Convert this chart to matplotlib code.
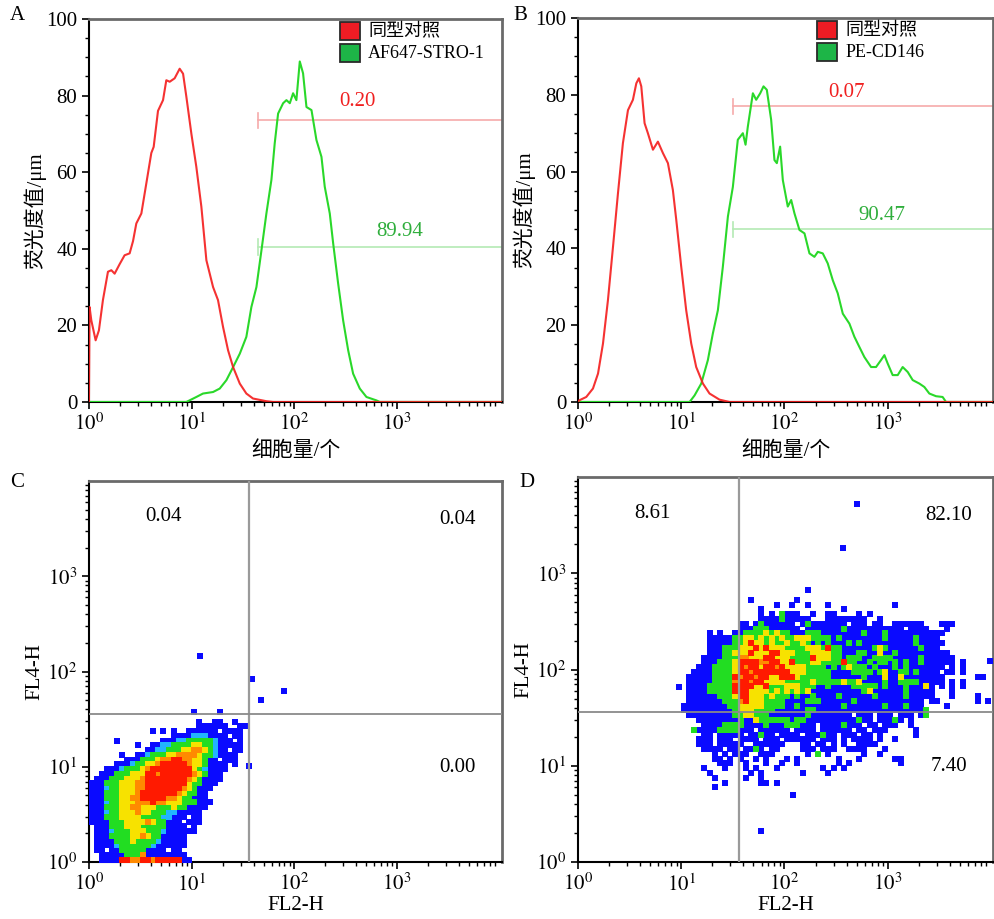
import matplotlib.pyplot as plt
from matplotlib.patches import Rectangle
from matplotlib.ticker import FixedLocator, FixedFormatter, LogLocator, NullFormatter, MultipleLocator
import numpy as np

plt.rcParams['font.family'] = ['Liberation Serif', 'Noto Sans CJK SC']
plt.rcParams['mathtext.fontset'] = 'stix'

# =========================
# DADOS — histogramas (posição em log10 do canal, altura)
# =========================
a_red_logx = [0.0, 0.006, 0.023, 0.065, 0.097, 0.136, 0.185, 0.218, 0.25, 0.299,
              0.347, 0.396, 0.429, 0.461, 0.51, 0.558, 0.607, 0.63, 0.672, 0.721,
              0.753, 0.786, 0.834, 0.883, 0.916, 0.948, 0.997, 1.045, 1.094, 1.143,
              1.208, 1.256, 1.305, 1.354, 1.403, 1.468, 1.532, 1.597, 1.727, 1.792, 4.02]
a_red_val = [0, 24.8, 21.3, 16.1, 18.7, 26.6, 34.0, 34.4, 33.5, 36.0,
             38.3, 38.8, 42.0, 46.6, 49.2, 57.0, 65.0, 66.6, 76.0, 78.8,
             84.0, 83.6, 84.5, 87.0, 85.7, 79.7, 70.0, 61.4, 51.0, 37.0,
             30.0, 26.6, 19.6, 13.5, 9.1, 4.8, 2.2, 0.9, 0.2, 0, 0]

a_green_logx = [0.0, 0.948, 1.045, 1.11, 1.208, 1.273, 1.338, 1.403, 1.468, 1.532,
                1.581, 1.63, 1.679, 1.727, 1.776, 1.808, 1.841, 1.89, 1.922, 1.955,
                1.987, 2.019, 2.052, 2.084, 2.117, 2.166, 2.214, 2.263, 2.295, 2.344,
                2.377, 2.425, 2.474, 2.523, 2.571, 2.636, 2.701, 2.799, 2.83, 4.02]
a_green_val = [0, 0, 1.3, 2.2, 2.6, 3.5, 5.7, 9.1, 12.6, 17.0,
               24.8, 30.0, 39.6, 49.2, 58.0, 67.5, 75.3, 78.0, 78.8, 78.0,
               80.6, 78.8, 88.9, 85.8, 77.0, 76.2, 68.4, 64.0, 56.2, 49.2,
               41.4, 31.0, 21.3, 13.5, 7.4, 3.5, 1.3, 0.4, 0, 0]

b_red_logx = [0.0, 0.01, 0.08, 0.145, 0.194, 0.242, 0.29, 0.339, 0.387, 0.435,
              0.484, 0.532, 0.565, 0.59, 0.613, 0.645, 0.677, 0.726, 0.774, 0.823,
              0.871, 0.919, 0.952, 1.0, 1.048, 1.097, 1.145, 1.21, 1.274, 1.371,
              1.468, 4.01]
b_red_val = [0, 0.4, 1.3, 3.5, 7.4, 15.2, 26.5, 40.4, 54.3, 67.4,
             76.0, 78.7, 83.0, 84.3, 82.2, 72.6, 70.0, 65.7, 67.8, 64.8,
             62.2, 55.2, 47.4, 35.2, 23.9, 15.2, 9.1, 4.8, 2.2, 0.6,
             0, 0]

b_green_logx = [0.0, 1.081, 1.129, 1.194, 1.258, 1.306, 1.355, 1.403, 1.452, 1.5,
                1.548, 1.597, 1.623, 1.645, 1.694, 1.726, 1.765, 1.797, 1.829, 1.871,
                1.903, 1.926, 1.958, 1.984, 2.032, 2.065, 2.097, 2.145, 2.194, 2.242,
                2.29, 2.323, 2.371, 2.419, 2.468, 2.516, 2.565, 2.629, 2.677, 2.726,
                2.774, 2.839, 2.887, 2.935, 2.968, 3.0, 3.048, 3.097, 3.145, 3.194,
                3.242, 3.306, 3.355, 3.403, 3.468, 3.532, 3.565, 4.01]
b_green_val = [0, 0, 1.7, 4.8, 10.9, 17.8, 23.9, 35.2, 48.3, 56.0,
               68.3, 70.0, 67.0, 71.7, 80.4, 78.7, 80.4, 82.2, 81.3, 73.5,
               63.0, 62.2, 66.5, 57.8, 50.9, 52.6, 49.1, 44.8, 43.9, 38.7,
               37.8, 39.1, 38.7, 36.1, 31.7, 28.3, 23.0, 20.4, 17.0, 14.3,
               11.7, 9.1, 9.1, 10.9, 12.2, 10.0, 7.0, 7.0, 9.1, 7.8,
               5.7, 4.8, 3.9, 2.2, 1.5, 1.3, 0, 0]

# marcadores (gates) dos histogramas
a_gate_x0, a_gate_red_y, a_gate_green_y = 44, 73.5, 40.5
b_gate_x0, b_gate_red_y, b_gate_green_y = 32, 77, 45
a_pcts = ['0.20', '89.94']
b_pcts = ['0.07', '90.47']
a_pct_pos = [(410, 78.5), (1050, 44.5)]
b_pct_pos = [(400, 80.5), (870, 48.5)]
leg_a = ['同型对照', 'AF647-STRO-1']
leg_b = ['同型对照', 'PE-CD146']

# =========================
# DADOS — dot plots (mapa de densidade, células de 0.05 década)
# b=azul c=ciano g=verde y=amarelo o=laranja r=vermelho
# =========================
c_map = [  # de cima (log y 1.55-1.60) para baixo (0-0.05), log x a partir de 0
    "....................b....b",
    "",
    ".....................b..bb..b",
    ".....................bbbbbb..bb",
    "............b.b.b..bbbbbb.bbbb",
    "................bbbbcccbbbb.bb",
    ".....b........bbbccgggggcbbb.b",
    ".........b..bbccggggyyggcbbbbb",
    "...........bbccgggyyooygcbb.bb",
    "......b..bbcgggyyooooyggcbbbb",
    ".......bbbgggyoorrooyygbb.bbb",
    ".....bbbcggyyorrrrroyygbbbb.b",
    "...bbbcgggyorrrrrrrrygcbbbb",
    "..bbbgggyyyrrorrrrrroygbbb",
    ".bbbgggyyyorrrrrrrroygbbbb",
    "bbbgggyyyoorrrrrrrryggbbb",
    "bbbcggyyyoorrrrrrroygbbb",
    "bbbgggyyyorrrrrrroyggbb.",
    "bbbgggyyoorrrrrooyggbbb",
    "bbbcggyyyooorooyyygggbbb",
    "bbbgggyyooyyygggyggbbbb",
    "bbbcggyyyoyygggccbbbbb",
    "bbbgggyyyyggggccbbb.bb",
    "bbbbgggyyyyoyggbbb.bbb",
    ".bbbgggyyygggggbbbb.b",
    ".bbbcgggyyygggcbbbbbb",
    ".bbbggggyyoyggbbbbb.",
    ".bbbbgggyggggcbbbbb",
    ".bbbbcggggggcbbbbbb",
    ".bb.bbgggggbbbb.bb",
    "..bbbbbgggobbbbbbbb",
    "..bbbbrroorrorrrrrbb",
]
c_map_x0, c_map_y0 = 0.0, 0.0
c_out_x = [12, 39, 47, 80, 36]
c_out_y = [144, 83, 50, 63, 10.2]

d_map = [  # de cima (log y 2.85-2.90) para baixo (0.70-0.75), log x a partir de 0.95
    "",
    "..........|..........|.....b",
    "",
    "..........|....b.....|...b",
    "..........|.........b|..b..b...b|..........|..b",
    "..........|......b...|..........|..b",
    "..........|......b.b.|gbbb..b..b|b....b.b",
    "..........|......bbbb|gbbbbb...b|bbbbbbb..b",
    "..........|..bb.bgbbb|bbb.bgbbbb|bbb.bbb.bb|..bbbbbb..|.bbb",
    "..........|..bbbgggbb|bbbb.bbbbb|bbgbbbbbbb|bbbb.bbbb.|..b",
    "......b.b.|.bbggggygy|ggbbbgggbb|bbbbbbgbbb|gbbbbbbbbb|bb",
    "......bbbb|bggyygygyg|yggyyygggg|bgbbbbbbbb|gbbbbbgbbb|b",
    "......bbbb|bggyryygyg|gyggygbgbg|bbbgbgbbbb|bbbbbbgbbb|bb",
    "......bbbg|ggyyyryryy|yggggyyygr|ggbbbbbbgy|gbbbbbbgbb|b",
    "......bbbg|gyyyryyyrr|yyygggyyyy|ggbbbggbby|bbgbbbbbbb|bbb",
    ".....bbbbg|ggooyyyrry|yyggggryyy|ggbgggbbgg|ggbbbbbgbb|bbbb",
    ".....bbbgg|gyrrrroorr|yyrgggyygg|ggrggbbgbg|gbgbgbbgbb|bbbb.b",
    "....bbbggg|gyrorryrro|ryyyyggggb|gbgygggbgb|bbgbgbbbbb|bb.b.b",
    "...bbbbggg|gyrrorrrrr|rryyyggggg|bbbbggggbg|ybbggbgbbb|b.bb.b",
    "..bbbbbggg|grorrorryy|rrrygggggg|bbbbbbgbbb|ybbybbbbbb|bb......bb",
    "..bbbbbggg|gorrorryyy|ygggggyggg|ggyggybbbb|gbbggggbbb|bb.b.b",
    "..bbbbgggg|grrrryyrgg|gyyygggbbg|bbbbgggggb|gbbbgbbbyb|.b.b.b",
    "..bbbbgggg|grrryyyygy|gygygybbbb|bbbbbbgybb|bbbbgbbbbb|...b",
    "..bbbbbbgg|gyrryyygyg|ggbgbbgbbb|bgbbbbbbgb|bbbbgbbbbb|...b....b",
    "..bbbbbbbg|ggoryyyggg|gbbbbgggbb|bbbbgbbbbb|bbbbbbbb.b|b.......b.b",
    ".bbbbbbbbb|ggyyyyyggg|gbbgbbbbbb|bbgbbbbbbb|gbbbgbbb..|..b",
    ".bbbbbbbbb|bgyyyggggb|bbbbbggbbb|bbbbbbbbbb|bbbbbbbbg",
    "..bbbbbbbb|bggyygggbb|bbbbbgbbbb|bbbb.bbb.b|bb.bbb.bg",
    "....bbbbbb|bbgbbygggg|ggbggbbbbb|bbbbbgbb.b|bbgb.b",
    ".....bbbbg|gggbbbbgbb|bgggbbb.bb|bbgbbb.bb.|bbb..b",
    "...gbbbbgg|ggbbb.bbbb|bb.bbbb.bb|bbbb.bb.bb|b.....b",
    ".....bb.bb|bbb.bbgbb.|bbbb.bbbgb|b.bbb.bb.b|......b",
    "....bbb.bb|b.bbbb.bbb|.bbbbbb.bb|b.b.bbbb.b|..b",
    "....bbb.bb|bbb..bbbbb|b...bb.bb.|b.b..bbbb.",
    ".....bbbb.|bb.bbgb.bb|....bbb.bb|b..bbbb...|b",
    ".......b.b|.bbb..bbb.|.....b.g.b|......b..b",
    ".......bb.|b.b..b.b..|.b.b......|.b...b....|..bb",
    "........bb|b..b...b..|b..b......|.b.b......|...b",
    ".....b...b|...b.b...b|........b.|b.b",
    "......b...|....b.b...|....b....b",
    ".......b..|...b..b",
    ".........b|......bb.b",
    ".......b",
    "",
]
d_map_x0, d_map_y0 = 0.95, 0.70
d_out_x = [500, 370, 9.5, 59, 120, 9800]
d_out_y = [5200, 1820, 66, 2.1, 5.0, 123]

c_quad = ['0.04', '0.04', '0.00']
d_quad = ['8.61', '82.10', '7.40']
quad_gate = 36

dot_colors = {'b': '#0a0aff', 'c': '#22b4ff', 'g': '#22dd22',
              'y': '#f7e200', 'o': '#ff8a00', 'r': '#ff1a00'}
RED = '#f41c1c'
GREEN = '#2ad82a'
XMAX = 10 ** 4.02
log_labels = [r'$10^{0}$', r'$10^{1}$', r'$10^{2}$', r'$10^{3}$']
DOT_S = 16


def eixo_log(axis):
    axis.set_major_locator(FixedLocator([1, 10, 100, 1000]))
    axis.set_major_formatter(FixedFormatter(log_labels))
    axis.set_minor_locator(LogLocator(base=10, subs=np.arange(2, 10), numticks=30))
    axis.set_minor_formatter(NullFormatter())


def moldura(ax):
    for lado in ['left', 'bottom']:
        ax.spines[lado].set_color('black')
        ax.spines[lado].set_linewidth(1.5)
    for lado in ['top', 'right']:
        ax.spines[lado].set_color('#6a6a6a')
        ax.spines[lado].set_linewidth(2)
    ax.tick_params(which='major', direction='out', length=5, width=1.2, labelsize=15)
    ax.tick_params(which='minor', direction='out', length=3, width=1.0)


def histograma(ax, red_x, red_y, green_x, green_y, gate_x0, gry, ggy, pcts, pos):
    ax.set_xscale('log')
    ax.plot(10 ** np.array(green_x), green_y, color=GREEN, lw=1.5, zorder=3)
    ax.plot(10 ** np.array(red_x), red_y, color=RED, lw=1.5, zorder=3, alpha=0.9)
    ax.set_xlim(1, XMAX)
    ax.set_ylim(0, 100)
    eixo_log(ax.xaxis)
    ax.yaxis.set_major_locator(MultipleLocator(20))
    ax.yaxis.set_minor_locator(MultipleLocator(5))
    moldura(ax)

    # gates
    ax.plot([gate_x0, XMAX], [gry, gry], color='#f6aaaa', lw=1.2, zorder=2)
    ax.plot([gate_x0, gate_x0], [gry - 2, gry + 2], color='#f6aaaa', lw=1.2)
    ax.plot([gate_x0, XMAX], [ggy, ggy], color='#b4eab4', lw=1.2, zorder=2)
    ax.plot([gate_x0, gate_x0], [ggy - 2, ggy + 2], color='#b4eab4', lw=1.2)
    ax.text(pos[0][0], pos[0][1], pcts[0], color='#f02020', fontsize=15, ha='center', va='center')
    ax.text(pos[1][0], pos[1][1], pcts[1], color='#2fae3c', fontsize=15, ha='center', va='center')

    ax.set_xlabel('细胞量/个', fontsize=15, labelpad=4)
    ax.set_ylabel('荧光度值/μm', fontsize=15, labelpad=0)


def legenda(ax, x0, textos):
    for k, (cor, txt) in enumerate(zip(['#ee1c24', '#1db547'], textos)):
        yb = 0.945 - k * 0.057
        ax.add_patch(Rectangle((x0, yb), 0.049, 0.047, transform=ax.transAxes,
                               facecolor=cor, edgecolor='#2a2a2a', lw=1.3, clip_on=False, zorder=5))
        ax.text(x0 + 0.068, yb + 0.022, txt, transform=ax.transAxes, fontsize=13,
                ha='left', va='center', zorder=5)


def dot_plot(ax, mapa, x0, y0, out_x, out_y, quad, step=0.05):
    ax.set_xscale('log')
    ax.set_yscale('log')
    n = len(mapa)
    for ch in 'bcgyor':
        xs, ys = [], []
        for k, linha in enumerate(mapa):
            linha = linha.replace('|', '')
            j = n - 1 - k
            for i, c in enumerate(linha):
                if c == ch:
                    xs.append(10 ** (x0 + (i + 0.5) * step))
                    ys.append(10 ** (y0 + (j + 0.5) * step))
        if xs:
            ax.scatter(xs, ys, s=DOT_S, marker='s', color=dot_colors[ch], linewidths=0, zorder=3)
    ax.scatter(out_x, out_y, s=DOT_S, marker='s', color=dot_colors['b'], linewidths=0, zorder=3)

    ax.axvline(quad_gate, color='#9a9a9a', lw=1.6, zorder=4)
    ax.axhline(quad_gate, color='#8a8a8a', lw=1.3, zorder=4)
    ax.set_xlim(1, XMAX)
    ax.set_ylim(1, 10 ** 4.0)
    eixo_log(ax.xaxis)
    eixo_log(ax.yaxis)
    moldura(ax)

    ax.text(0.18, 0.906, quad[0], transform=ax.transAxes, fontsize=15, ha='center', va='center')
    ax.text(0.893, 0.900, quad[1], transform=ax.transAxes, fontsize=15, ha='center', va='center')
    ax.text(0.893, 0.249, quad[2], transform=ax.transAxes, fontsize=15, ha='center', va='center')

    ax.set_xlabel('FL2-H', fontsize=15, labelpad=0)
    ax.set_ylabel('FL4-H', fontsize=15, labelpad=2)


fig = plt.figure(figsize=(9.95, 9.19), dpi=100)
fig.patch.set_facecolor('white')

ax_a = fig.add_axes([0.0894, 0.5626, 0.4151, 0.4168])
ax_b = fig.add_axes([0.5809, 0.5626, 0.4171, 0.4178])
ax_c = fig.add_axes([0.0894, 0.0620, 0.4151, 0.4146])
ax_d = fig.add_axes([0.5809, 0.0620, 0.4171, 0.4189])

histograma(ax_a, a_red_logx, a_red_val, a_green_logx, a_green_val,
           a_gate_x0, a_gate_red_y, a_gate_green_y, a_pcts, a_pct_pos)
legenda(ax_a, 0.608, leg_a)
histograma(ax_b, b_red_logx, b_red_val, b_green_logx, b_green_val,
           b_gate_x0, b_gate_red_y, b_gate_green_y, b_pcts, b_pct_pos)
legenda(ax_b, 0.576, leg_b)

dot_plot(ax_c, c_map, c_map_x0, c_map_y0, c_out_x, c_out_y, c_quad)
dot_plot(ax_d, d_map, d_map_x0, d_map_y0, d_out_x, d_out_y, d_quad)

for letra, (x, y) in zip('ABCD', [(0.0171, 0.9826), (0.5226, 0.9826),
                                   (0.0171, 0.4755), (0.5297, 0.4755)]):
    fig.text(x, y, letra, fontsize=15, ha='center', va='center')

fig.savefig('out.png', dpi=100, facecolor='white')
plt.close()
